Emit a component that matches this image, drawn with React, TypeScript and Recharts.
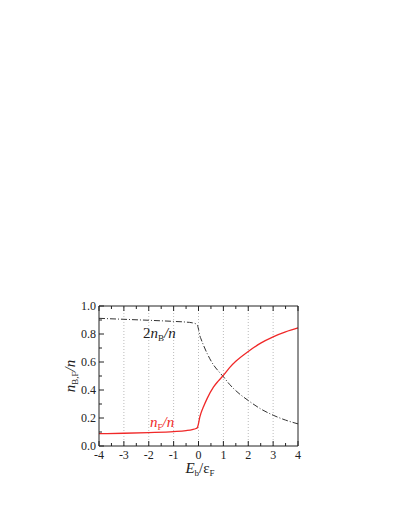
import React from "react";
import { LineChart, Line, XAxis, YAxis, ReferenceLine } from "recharts";

// E_b / eps_F sample points
const xVals = [-4, -3, -2, -1, -0.5, -0.25, -0.1, -0.05, 0, 0.05, 0.1, 0.2, 0.35, 0.6, 0.8, 1, 1.25, 1.5, 2, 2.5, 3, 3.5, 4];
// n_F / n (red)
const nF = [0.088, 0.091, 0.096, 0.103, 0.11, 0.117, 0.125, 0.13, 0.16, 0.205, 0.235, 0.28, 0.34, 0.42, 0.465, 0.505, 0.56, 0.605, 0.675, 0.735, 0.78, 0.815, 0.843];
// 2 n_B / n (dash-dot)
const nB2 = [0.912, 0.905, 0.898, 0.89, 0.885, 0.88, 0.872, 0.865, 0.835, 0.79, 0.765, 0.72, 0.66, 0.58, 0.535, 0.495, 0.44, 0.395, 0.325, 0.265, 0.22, 0.185, 0.158];

const xTicks = [-4, -3.5, -3, -2.5, -2, -1.5, -1, -0.5, 0, 0.5, 1, 1.5, 2, 2.5, 3, 3.5, 4];
const yTicks = [0, 0.1, 0.2, 0.3, 0.4, 0.5, 0.6, 0.7, 0.8, 0.9, 1.0];
const gridX = [-3, -2, -1, 0, 1, 2, 3];

const data = xVals.map((x, i) => ({ x, nF: nF[i], nB2: nB2[i] }));

const W = 391;
const H = 508;
const L = 91, R = 290, T = 298, B = 438;
const FONT = "'Liberation Serif', 'Times New Roman', Times, serif";
const INK = "#222";
const RED = "#f02828";

const isMajorX = (v: number) => Number.isInteger(v);
const isMajorY = (v: number) => Math.round(v * 10) % 2 === 0;

const BottomTick = (props: any) => {
  const { x, payload } = props;
  const major = isMajorX(payload.value);
  return (
    <g>
      <line x1={x} x2={x} y1={B} y2={B - (major ? 5 : 3)} stroke={INK} strokeWidth={1} />
      {major && (
        <text x={x} y={B + 12.5} textAnchor="middle" fontSize={12} style={{ fontFamily: FONT }} fill={INK}>
          {payload.value}
        </text>
      )}
    </g>
  );
};

const TopTick = (props: any) => {
  const { x, payload } = props;
  const major = isMajorX(payload.value);
  return <line x1={x} x2={x} y1={T} y2={T + (major ? 5 : 3)} stroke={INK} strokeWidth={1} />;
};

const LeftTick = (props: any) => {
  const { y, payload } = props;
  const major = isMajorY(payload.value);
  return (
    <g>
      <line x1={L} x2={L + (major ? 5 : 3)} y1={y} y2={y} stroke={INK} strokeWidth={1} />
      {major && (
        <text x={L - 3} y={y + 4} textAnchor="end" fontSize={12} style={{ fontFamily: FONT }} fill={INK}>
          {payload.value.toFixed(1)}
        </text>
      )}
    </g>
  );
};

const RightTick = (props: any) => {
  const { y, payload } = props;
  const major = isMajorY(payload.value);
  return <line x1={R} x2={R - (major ? 5 : 3)} y1={y} y2={y} stroke={INK} strokeWidth={1} />;
};

export default function App() {
  return (
    <div style={{ position: "relative", width: W, height: H }}>
      <LineChart
        width={W}
        height={H}
        data={data}
        margin={{ top: T - 1, right: W - R - 1, left: L - 1, bottom: H - B - 1 }}
      >
        {gridX.map((g) => (
          <ReferenceLine key={g} x={g} stroke="#bbb" strokeDasharray="1 2" strokeWidth={1} />
        ))}
        <XAxis
          dataKey="x"
          type="number"
          domain={[-4, 4]}
          ticks={xTicks}
          interval={0}
          height={1}
          tickLine={false}
          axisLine={{ stroke: INK }}
          tick={<BottomTick />}
        />
        <XAxis
          xAxisId="top"
          orientation="top"
          dataKey="x"
          type="number"
          domain={[-4, 4]}
          ticks={xTicks}
          interval={0}
          height={1}
          tickLine={false}
          axisLine={{ stroke: INK }}
          tick={<TopTick />}
        />
        <YAxis
          type="number"
          domain={[0, 1]}
          ticks={yTicks}
          interval={0}
          width={1}
          tickLine={false}
          axisLine={{ stroke: INK }}
          tick={<LeftTick />}
        />
        <YAxis
          yAxisId="right"
          orientation="right"
          type="number"
          domain={[0, 1]}
          ticks={yTicks}
          interval={0}
          width={1}
          tickLine={false}
          axisLine={{ stroke: INK }}
          tick={<RightTick />}
        />
        <Line
          dataKey="nB2"
          type="monotone"
          stroke="#333"
          strokeWidth={1}
          strokeDasharray="6 2 1 2"
          dot={false}
          isAnimationActive={false}
        />
        <Line
          dataKey="nF"
          type="monotone"
          stroke={RED}
          strokeWidth={1.3}
          dot={false}
          isAnimationActive={false}
        />
      </LineChart>
      <svg
        width={W}
        height={H}
        style={{ position: "absolute", left: 0, top: 0, pointerEvents: "none", fontFamily: FONT }}
      >
        <text x={135} y={330} fontSize={15} fill={INK}>
          <tspan>2</tspan>
          <tspan fontStyle="italic">n</tspan>
          <tspan fontSize={9} dy={3}>B</tspan>
          <tspan fontStyle="italic" dy={-3}>/n</tspan>
        </text>
        <text x={142} y={419} fontSize={15} fill={RED}>
          <tspan fontStyle="italic">n</tspan>
          <tspan fontSize={9} dy={3}>F</tspan>
          <tspan fontStyle="italic" dy={-3}>/n</tspan>
        </text>
        <text
          x={0}
          y={0}
          transform={`translate(67, ${(T + B) / 2}) rotate(-90)`}
          textAnchor="middle"
          fontSize={15}
          fill={INK}
        >
          <tspan fontStyle="italic">n</tspan>
          <tspan fontSize={9} dy={3}>B,F</tspan>
          <tspan fontStyle="italic" dy={-3}>/n</tspan>
        </text>
        <text x={192} y={465} textAnchor="middle" fontSize={15} fill={INK}>
          <tspan fontStyle="italic">E</tspan>
          <tspan fontSize={9} dy={3}>b</tspan>
          <tspan dy={-3}>/ε</tspan>
          <tspan fontSize={9} dy={3}>F</tspan>
        </text>
      </svg>
    </div>
  );
}
